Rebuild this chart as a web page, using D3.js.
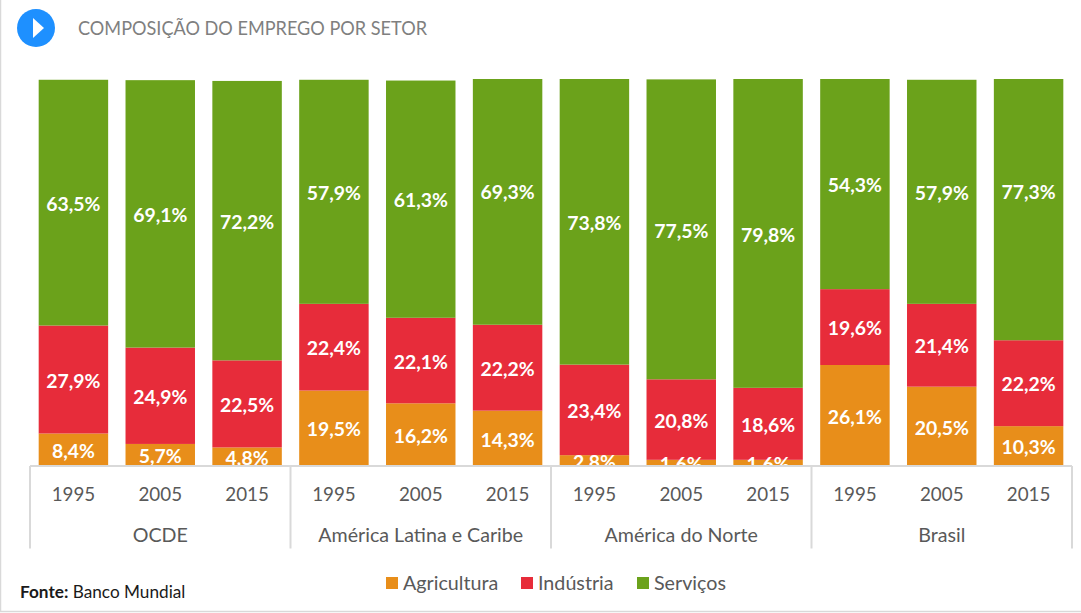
<!DOCTYPE html>
<html><head><meta charset="utf-8">
<script src="https://cdnjs.cloudflare.com/ajax/libs/d3/7.8.5/d3.min.js"></script>
<style>html,body{margin:0;padding:0;background:#fff}svg{display:block}text{font-family:Lato,sans-serif}</style>
</head><body><svg id="c" width="1081" height="613"></svg>
<script>
const title = "COMPOSIÇÃO DO EMPREGO POR SETOR";
const groups = ["OCDE","América Latina e Caribe","América do Norte","Brasil"];
const years = ["1995","2005","2015"];
const seriesNames = ["Agricultura","Indústria","Serviços"];
const seriesColors = ["#E88E1A","#E72C3A","#6BA21B"];
const agricultura = [8.4,5.7,4.8, 19.5,16.2,14.3, 2.8,1.6,1.6, 26.1,20.5,10.3];
const industria  = [27.9,24.9,22.5, 22.4,22.1,22.2, 23.4,20.8,18.6, 19.6,21.4,22.2];
const servicos   = [63.5,69.1,72.2, 57.9,61.3,69.3, 73.8,77.5,79.8, 54.3,57.9,77.3];
const seriesValues = [agricultura,industria,servicos];

const svg = d3.select("#c");
const W=1081,H=613, L=30, R=1072, T=79, B=466;
const idx = d3.range(12);
const x = d3.scaleBand().domain(idx).range([L,R]).paddingInner(0.2).paddingOuter(0.1);
const y = d3.scaleLinear().domain([0,100]).range([B,T]);
const fmt = v => v.toFixed(1).replace(".",",")+"%";

// frame
svg.append("rect").attr("x",0.5).attr("y",-2).attr("width",W+2).attr("height",613.5).attr("fill","none").attr("stroke","#d9d9d9").attr("stroke-width",1.5);

// header
svg.append("circle").attr("cx",36).attr("cy",28).attr("r",19).attr("fill","#1E90FF");
svg.append("path").attr("d",d3.line()([[33,18],[44,28],[33,38]])+"Z").attr("fill","#fff");
svg.append("text").attr("x",78).attr("y",35).attr("font-size",19.5).attr("fill","#7f7f7f").attr("textLength",349).attr("lengthAdjust","spacingAndGlyphs").text(title);

// clip to plot area
svg.append("clipPath").attr("id","plot").append("rect").attr("x",L).attr("y",T).attr("width",R-L).attr("height",B-T);
const plot = svg.append("g").attr("clip-path","url(#plot)");

const stacked = d3.stack().keys([0,1,2]).value((i,k)=>seriesValues[k][i])(idx);
stacked.forEach((s,k)=>{
  plot.append("g").selectAll("rect").data(s).join("rect")
    .attr("x",(d,i)=>x(i)).attr("width",x.bandwidth())
    .attr("y",d=>y(d[1])).attr("height",d=>y(d[0])-y(d[1]))
    .attr("fill",seriesColors[k]);
});
stacked.forEach((s,k)=>{
  plot.append("g").selectAll("text").data(s).join("text")
    .attr("x",(d,i)=>x(i)+x.bandwidth()/2)
    .attr("y",d=>(y(d[0])+y(d[1]))/2+1.2)
    .attr("dy","0.36em").attr("text-anchor","middle")
    .attr("font-size",19.4).attr("font-weight",700).attr("fill","#fff")
    .text((d,i)=>fmt(seriesValues[k][i]));
});

// axis
const yearAxis = d3.axisBottom(x).tickSize(0).tickPadding(0).tickFormat(i=>years[i%3]);
const ax = svg.append("g").attr("transform",`translate(0,${B})`).call(yearAxis);
ax.select(".domain").remove();
ax.selectAll("text").attr("y",34.5).attr("dy",0).attr("font-size",18.8).attr("fill","#595959").style("font-family","Lato,sans-serif");
const gx = d3.scaleBand().domain(groups).range([L,R]);
svg.append("line").attr("x1",L).attr("x2",R).attr("y1",B).attr("y2",B).attr("stroke","#d9d9d9").attr("stroke-width",2);
const seps = groups.map(g=>gx(g)).concat([R]);
svg.append("g").selectAll("line").data(seps).join("line")
  .attr("x1",d=>d).attr("x2",d=>d).attr("y1",B).attr("y2",548.5)
  .attr("stroke","#d9d9d9").attr("stroke-width",2);
svg.append("g").selectAll("text").data(groups).join("text")
  .attr("x",g=>gx(g)+gx.bandwidth()/2).attr("y",542).attr("text-anchor","middle")
  .attr("font-size",19.65).attr("fill","#595959").text(g=>g);

// legend
const legendX=[386,521,637];
seriesNames.forEach((n,i)=>{
  svg.append("rect").attr("x",legendX[i]).attr("y",577).attr("width",12).attr("height",12).attr("fill",seriesColors[i]);
  svg.append("text").attr("x",legendX[i]+17).attr("y",590).attr("font-size",19.7).attr("fill","#595959").text(n);
});

// source
const src = svg.append("text").attr("x",20).attr("y",598).attr("font-size",17.2).attr("fill","#1a1a1a");
src.append("tspan").attr("font-weight",700).text("Fonte:");
src.append("tspan").text(" Banco Mundial");
</script></body></html>
